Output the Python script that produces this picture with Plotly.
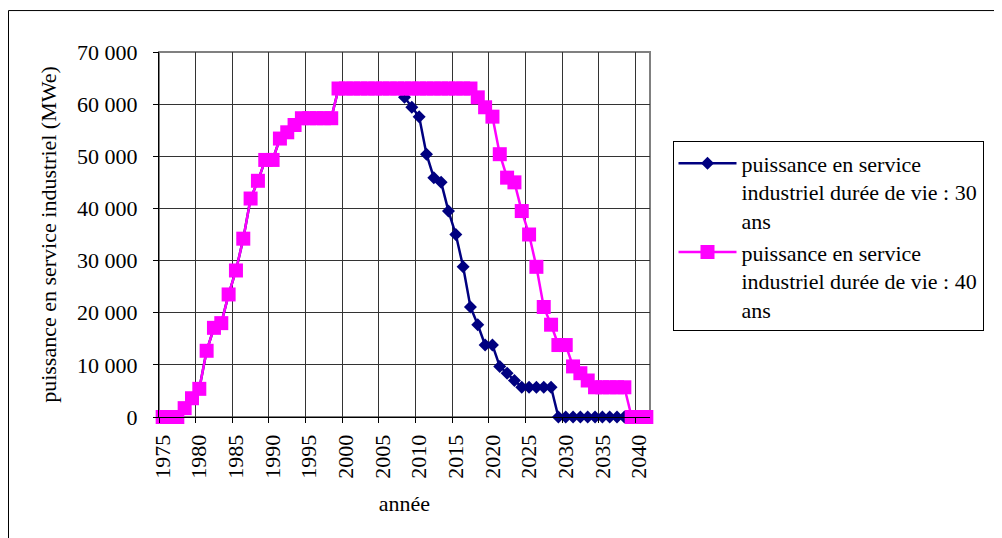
import plotly.graph_objects as go

# Categories (years)
years = [str(y) for y in range(1975, 2042)]

# Series values (MWe)
puissance_30_ans = [
    0, 0, 0, 1700, 3600, 5400, 12700, 17100, 18000, 23500,
    28100, 34200, 41900, 45300, 49300, 49300, 53400, 54600, 56000, 57300,
    57300, 57300, 57300, 57300, 63000, 63000, 63000, 63000, 63000, 63000,
    63000, 63000, 63000, 61300, 59400, 57600, 50400, 45900, 45000, 39500,
    35000, 28800, 21100, 17700, 13800, 13800, 9700, 8400, 7000, 5700,
    5700, 5700, 5700, 5700, 0, 0, 0, 0, 0, 0,
    0, 0, 0, 0, 0, 0, 0,
]
puissance_40_ans = [
    0, 0, 0, 1700, 3600, 5400, 12700, 17100, 18000, 23500,
    28100, 34200, 41900, 45300, 49300, 49300, 53400, 54600, 56000, 57300,
    57300, 57300, 57300, 57300, 63000, 63000, 63000, 63000, 63000, 63000,
    63000, 63000, 63000, 63000, 63000, 63000, 63000, 63000, 63000, 63000,
    63000, 63000, 63000, 61300, 59400, 57600, 50400, 45900, 45000, 39500,
    35000, 28800, 21100, 17700, 13800, 13800, 9700, 8400, 7000, 5700,
    5700, 5700, 5700, 5700, 0, 0, 0,
]

name_30 = "puissance en service<br>industriel durée de vie : 30<br>ans"
name_40 = "puissance en service<br>industriel durée de vie : 40<br>ans"

FONT = "Liberation Serif"
OFF = 8  # page body margin
W, H = 994, 530
L, T = 159 - OFF, 51.5 - OFF
PW, PH = 491, 365.5
R, B = W - L - PW, H - T - PH


def px_x(sx):
    return (sx - OFF - L) / PW


def px_y(sy):
    return (T + PH - (sy - OFF)) / PH


fig = go.Figure()
fig.add_trace(go.Scatter(
    x=years, y=puissance_30_ans, name=name_30, mode="lines+markers",
    line=dict(color="#000080", width=2.5),
    marker=dict(symbol="diamond", size=10, color="#000080"),
    cliponaxis=False,
))
fig.add_trace(go.Scatter(
    x=years, y=puissance_40_ans, name=name_40, mode="lines+markers",
    line=dict(color="#FF00FF", width=2.5),
    marker=dict(symbol="square", size=14, color="#FF00FF"),
    cliponaxis=False,
))

fig.update_layout(
    width=W, height=H,
    margin=dict(l=L, r=R, t=T, b=B, autoexpand=False),
    paper_bgcolor="white", plot_bgcolor="white",
    font=dict(family=FONT, size=22, color="black"),
    separators=", ",
    showlegend=True,
    legend=dict(
        x=px_x(672.5), y=px_y(141), xanchor="left", yanchor="top",
        bordercolor="black", borderwidth=1, bgcolor="white",
        font=dict(family=FONT, size=22, color="black"),
        itemwidth=58, tracegroupgap=0, valign="top",
    ),
    shapes=[
        dict(type="rect", xref="paper", yref="paper",
             x0=0, x1=1, y0=0, y1=1,
             line=dict(color="#808080", width=2), layer="below"),
        dict(type="rect", xref="paper", yref="paper",
             x0=px_x(8.5), x1=px_x(1012), y0=px_y(548), y1=px_y(10),
             line=dict(color="black", width=1), layer="below"),
    ],
)

fig.update_xaxes(
    type="category", range=[-0.5, len(years) - 0.5],
    tickmode="linear", tick0=0, dtick=5, tickson="boundaries",
    tickangle=-90, ticks="outside", ticklen=5, tickcolor="black",
    ticklabelstandoff=8,
    showgrid=True, gridcolor="#333333", gridwidth=1,
    showline=True, linecolor="black", linewidth=1,
    title=dict(text="année", font=dict(family=FONT, size=22), standoff=17),
    tickfont=dict(family=FONT, size=22),
)
fig.update_yaxes(
    range=[0, 70000], tickmode="linear", tick0=0, dtick=10000,
    tickformat=",", ticks="outside", ticklen=5, tickcolor="black",
    ticklabelstandoff=11,
    showgrid=True, gridcolor="#333333", gridwidth=1,
    showline=True, linecolor="black", linewidth=1, zeroline=False,
    title=dict(text="puissance en service industriel (MWe)",
               font=dict(family=FONT, size=22), standoff=14),
    tickfont=dict(family=FONT, size=22),
)

fig.write_html("out.html")
